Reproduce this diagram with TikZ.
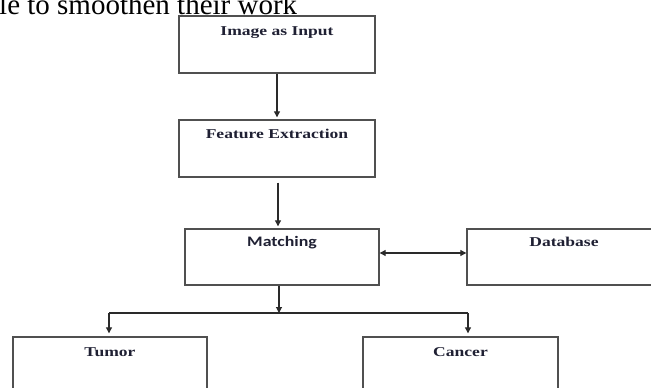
\documentclass[tikz,border=0pt]{standalone}
\usepackage{fontspec}
\setmainfont{Liberation Serif}
\newfontfamily\carlitofont{Carlito}
\usetikzlibrary{arrows.meta}
\definecolor{lbltext}{HTML}{1F2033}
\definecolor{boxline}{HTML}{505050}
\definecolor{arrline}{HTML}{2A2A2A}
\tikzset{
  box/.style={draw=boxline, line width=1.4pt, fill=white, minimum width=194pt, minimum height=56pt, inner sep=0pt},
  lbl/.style={text=lbltext, font=\fontsize{13.5}{16}\selectfont\bfseries, inner sep=0pt, anchor=base},
  arr/.style={draw=arrline, line width=1.1pt, -{Triangle[length=6pt,width=6pt]}},
  arrtwo/.style={draw=arrline, line width=1.1pt, {Triangle[length=6pt,width=6pt]}-{Triangle[length=6pt,width=6pt]}},
  plain/.style={draw=arrline, line width=1.1pt}
}
\begin{document}
\begin{tikzpicture}[x=1pt,y=-1pt]
\useasboundingbox (0,0) rectangle (651,388);
\clip (0,0) rectangle (651,388);
\fill[white] (0,0) rectangle (651,388);
% top running text
\node[anchor=base west, inner sep=0pt, font=\fontsize{29}{32}\selectfont] (toptext) at (-1,14) {le to smoothen their work};
% boxes
\node[box, minimum width=196pt, minimum height=57pt] (b1) at (277,44.5) {};
\node[box, minimum width=196pt, minimum height=57pt] (b2) at (277,148.5) {};
\node[box] (m) at (282,257) {};
\node[box] (db) at (564,257) {};
\node[box] (tu) at (110,365) {};
\node[box, minimum width=195pt] (ca) at (460.5,365) {};
% labels
\node[lbl] (t1) at ([yshift=-20pt]b1.north) {\scalebox{1.3}[1]{Image as Input}};
\node[lbl] (t2) at ([yshift=-19pt]b2.north) {\scalebox{1.3}[1]{Feature Extraction}};
\node[lbl, font=\carlitofont\fontsize{14.5}{16}\selectfont\bfseries] (t3) at ([yshift=-18pt]m.north) {\scalebox{1.23}[1]{Matching}};
\node[lbl] (t4) at ([yshift=-18pt]db.north) {\scalebox{1.3}[1]{Database}};
\node[lbl] (t5) at ([yshift=-20pt]tu.north) {\scalebox{1.3}[1]{Tumor}};
\node[lbl] (t6) at ([yshift=-20pt]ca.north) {\scalebox{1.3}[1]{Cancer}};
% connectors
\draw[arr] (b1.south) -- ([yshift=2pt]b2.north);
\draw[arr] ([xshift=1pt,yshift=-5pt]b2.south) -- ([xshift=1pt,yshift=2pt]b2.south |- m.north);
\draw[arrtwo] ([yshift=4pt]m.east) -- ([yshift=4pt]db.west);
\coordinate (j) at (279,313);
\coordinate (jl) at (109,313);
\coordinate (jr) at (468,313);
\draw[arr] (m.south -| j) -- (j);
\draw[plain] (jl) -- (jr);
\draw[arr] (jl) -- ([yshift=3pt]jl |- tu.north);
\draw[arr] (jr) -- ([yshift=3pt]jr |- ca.north);
\end{tikzpicture}
\end{document}
